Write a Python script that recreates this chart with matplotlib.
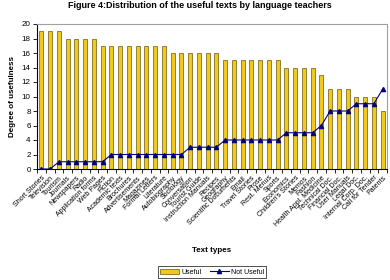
import numpy as np
import matplotlib
matplotlib.use("Agg")
import matplotlib.pyplot as plt
from matplotlib.lines import Line2D
from matplotlib.patches import Patch

plt.rcParams['font.family'] = ['Liberation Sans', 'DejaVu Sans']

categories = ["Short Stories", "Television", "Tourism", "Journals", "Newspapers", "Radio",
              "Application forms", "Web Pages", "Fiction", "Academic texts", "Brochures",
              "Advertisements", "Magazines", "Formal Letters", "Literature", "Autobiography",
              "Sociology", "Conversation", "Tourist Guide", "Instruction Manuals", "Recipes",
              "Geography", "Scientific Documents", "Email", "Travel Stories", "Prose",
              "Rest. Menus", "Sports", "Economics", "Children's Stories", "Memos", "Fashion",
              "Health Appl. Medicine", "Technical Doc.", "Financial Doc.", "User Manuals",
              "Legal Doc.", "Internal Corp. Doc.", "Call for Tender", "Patents"]
useful = [19, 19, 19, 18, 18, 18, 18, 17, 17, 17, 17, 17, 17, 17, 17, 16, 16, 16, 16, 16,
          16, 15, 15, 15, 15, 15, 15, 15, 14, 14, 14, 14, 13, 11, 11, 11, 10, 10, 10, 8]
not_useful = [0, 0, 1, 1, 1, 1, 1, 1, 2, 2, 2, 2, 2, 2, 2, 2, 2, 3, 3, 3,
              3, 4, 4, 4, 4, 4, 4, 4, 5, 5, 5, 5, 6, 8, 8, 8, 9, 9, 9, 11]
yticks = list(range(0, 21, 2))

W, H = 390, 280
fig = plt.figure(figsize=(W / 100, H / 100), dpi=100)
ax = fig.add_axes([37 / W, 1 - 169 / H, 350 / W, 145 / H])

x = np.arange(len(categories))
ax.bar(x, useful, width=0.45, color='#F2C81C', edgecolor='#6B5A10', linewidth=0.5, zorder=2)
ax.plot(x, not_useful, color='#000080', linewidth=0.8, marker='^', markersize=3,
        markerfacecolor='#000080', markeredgecolor='#000080', zorder=3)

ax.set_xlim(-0.5, len(categories) - 0.5)
ax.set_ylim(0, 20)
ax.set_yticks(yticks)
ax.tick_params(axis='y', labelsize=5.8, length=3, width=0.6, pad=1.5)
ax.set_xticks(x)
ax.set_xticklabels(categories, rotation=45, ha='right', rotation_mode='anchor', fontsize=5)
ax.tick_params(axis='x', which='major', length=0, pad=4)
ax.set_xticks(np.arange(-0.5, len(categories), 1), minor=True)
ax.tick_params(axis='x', which='minor', length=3, width=0.6, direction='out')

for s in ['top', 'right']:
    ax.spines[s].set_color('#A0A0A0')
    ax.spines[s].set_linewidth(0.8)
for s in ['left', 'bottom']:
    ax.spines[s].set_color('black')
    ax.spines[s].set_linewidth(0.8)

ax.set_ylabel('Degree of usefulness', fontsize=5.8, fontweight='bold', labelpad=4)
fig.text(212 / W, 1 - 251 / H, 'Text types', ha='center', va='center', fontsize=5.8,
         fontweight='bold')
fig.text(200 / W, 1 - 5.5 / H, 'Figure 4:Distribution of the useful texts by language teachers',
         ha='center', va='center', fontsize=6.5, fontweight='bold')

handles = [Patch(facecolor='#F2C81C', edgecolor='#6B5A10', linewidth=0.5),
           Line2D([0], [0], color='#000080', linewidth=0.8, marker='^', markersize=3)]
leg = fig.legend(handles, ['Useful', 'Not Useful'], loc='center', ncol=2,
                 bbox_to_anchor=(212 / W, 1 - 272 / H), fontsize=5, frameon=True,
                 fancybox=False, edgecolor='black', handlelength=2.8, handletextpad=0.3,
                 columnspacing=1.2, borderpad=0.3)
leg.get_frame().set_linewidth(0.6)

fig.savefig('out.png', dpi=100)
